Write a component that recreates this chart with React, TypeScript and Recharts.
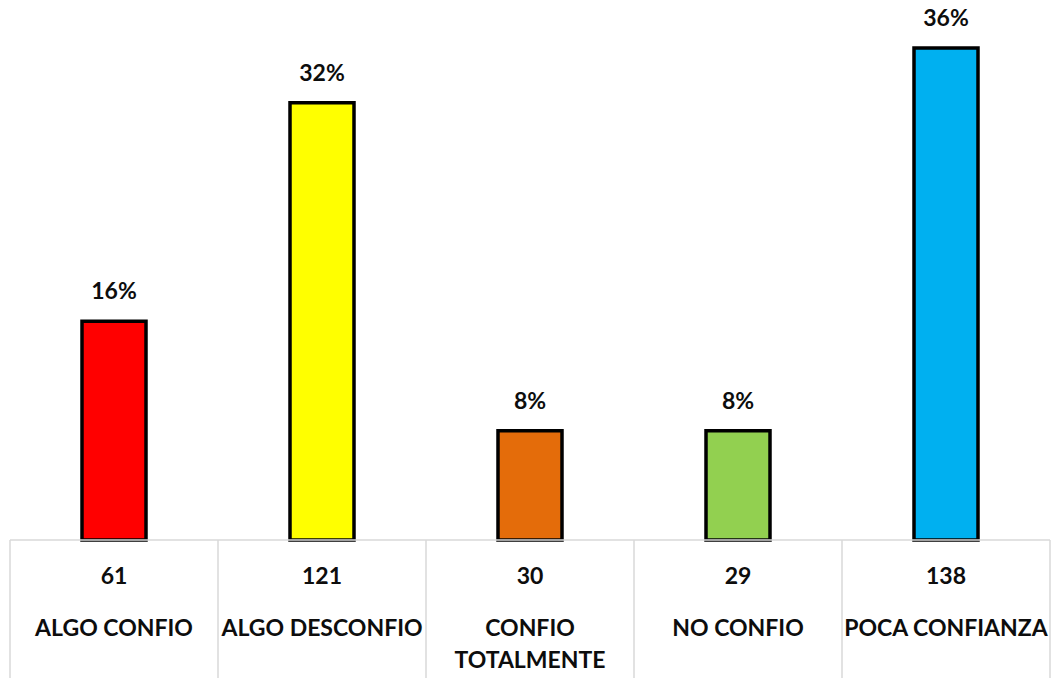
import React from 'react';
import { BarChart, Bar, XAxis, YAxis, Cell, LabelList } from 'recharts';

const CATEGORIES = ['ALGO CONFIO', 'ALGO DESCONFIO', 'CONFIO TOTALMENTE', 'NO CONFIO', 'POCA CONFIANZA'];
const COUNTS = [61, 121, 30, 29, 138];
const PERCENTS = [16, 32, 8, 8, 36];
const COLORS = ['#FF0000', '#FFFF00', '#E46C0A', '#92D050', '#00B0F0'];

const WIDTH = 1052;
const HEIGHT = 678;
const MARGIN = { top: 48, right: 2, left: 10, bottom: 0 };
const CELL_W = (WIDTH - MARGIN.left - MARGIN.right) / CATEGORIES.length;
const FONT = 'Lato, "Open Sans", sans-serif';
const GRID = '#d9d9d9';
const INK = '#0d0d0d';

const data = CATEGORIES.map((name, i) => ({
  name,
  count: COUNTS[i],
  pct: PERCENTS[i],
}));

// category names that should wrap onto two lines inside the table cell
const wrapLabel = (label: string) =>
  label === 'CONFIO TOTALMENTE' ? ['CONFIO', 'TOTALMENTE'] : [label];

const TableTick = (props: any) => {
  const { x, y, payload, index } = props;
  const row = data[index] || data.find((d) => d.name === payload.value);
  const left = x - CELL_W / 2;
  const top = y - 8; // tick y sits below the axis line by tickSize + margin
  const lines = wrapLabel(payload.value);
  return (
    <g>
      <line x1={left} y1={top} x2={left} y2={HEIGHT} stroke={GRID} strokeWidth={1.5} />
      {index === CATEGORIES.length - 1 && (
        <line x1={left + CELL_W} y1={top} x2={left + CELL_W} y2={HEIGHT} stroke={GRID} strokeWidth={1.5} />
      )}
      <text x={x} y={top + 44} textAnchor="middle" fontFamily={FONT} fontWeight={700} fontSize={23} fill={INK}>
        {row ? row.count : ''}
      </text>
      {lines.map((l, i) => (
        <text
          key={l}
          x={x}
          y={top + 96 + i * 32}
          textAnchor="middle"
          fontFamily={FONT}
          fontWeight={700}
          fontSize={23}
          fill={INK}
        >
          {l}
        </text>
      ))}
    </g>
  );
};

export default function App() {
  return (
    <div style={{ position: 'absolute', left: 0, top: 0, background: '#fff' }}>
      <BarChart width={WIDTH} height={HEIGHT} data={data} margin={MARGIN}>
        <XAxis
          dataKey="name"
          interval={0}
          height={HEIGHT - 540}
          tickLine={false}
          axisLine={{ stroke: GRID, strokeWidth: 1.5 }}
          tick={<TableTick />}
        />
        <YAxis hide domain={[0, 36]} />
        <Bar dataKey="pct" barSize={64} stroke="#000" strokeWidth={3.5} isAnimationActive={false}>
          {data.map((d, i) => (
            <Cell key={d.name} fill={COLORS[i]} />
          ))}
          <LabelList
            dataKey="pct"
            position="top"
            offset={22}
            formatter={(v: any) => `${v}%`}
            style={{ fontFamily: FONT, fontWeight: 700, fontSize: 23, fill: INK }}
          />
        </Bar>
      </BarChart>
    </div>
  );
}
